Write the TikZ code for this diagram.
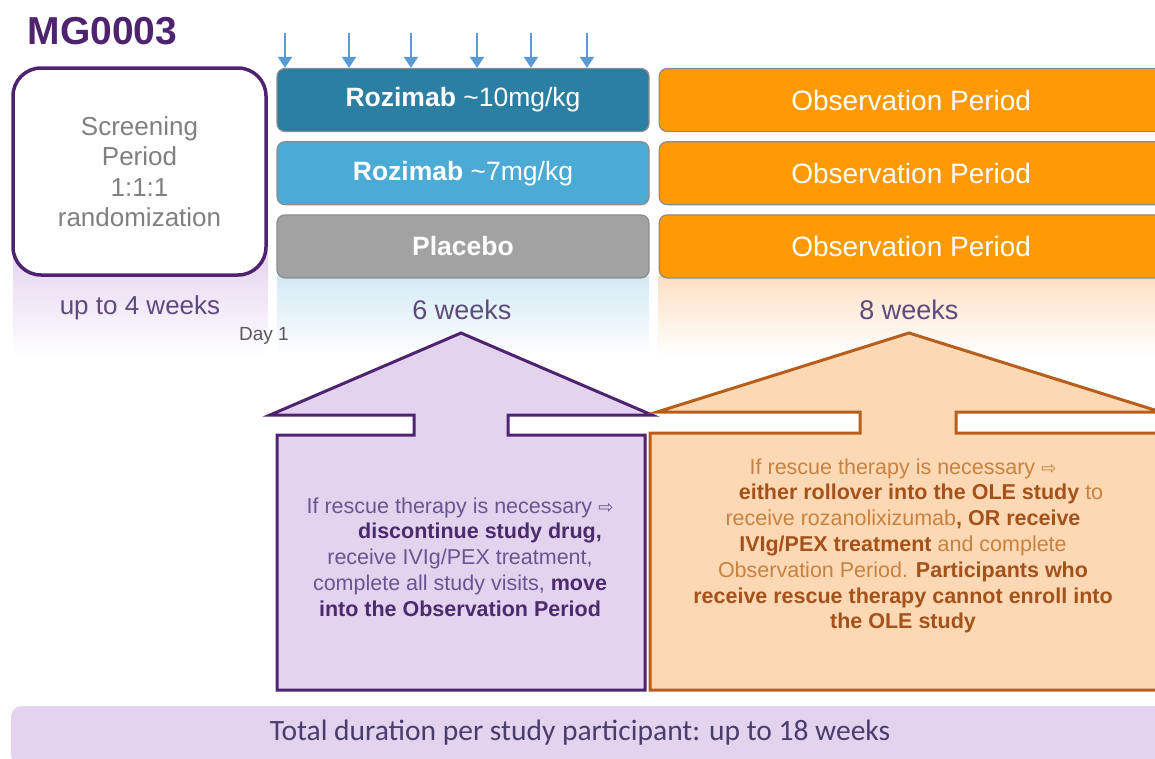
\documentclass[tikz,border=0pt]{standalone}
\usepackage{fontspec}
\setmainfont{Liberation Sans}
\newfontfamily\calibfont{Carlito}
\newfontfamily\arrowfont{DejaVu Sans}
\usepackage{tikz}
\usetikzlibrary{arrows.meta, positioning}
\usepackage{xcolor}

\definecolor{mgpurple}{HTML}{4E2470}
\definecolor{durpurple}{HTML}{5E4A7C}
\definecolor{screengray}{HTML}{808080}
\definecolor{dosecol}{HTML}{5B9BD5}
\definecolor{rozten}{HTML}{2B7FA3}
\definecolor{rozseven}{HTML}{4CABD4}
\definecolor{placebogray}{HTML}{A2A2A2}
\definecolor{obsorange}{HTML}{FF9A05}
\definecolor{prfill}{HTML}{E3D3EF}
\definecolor{prnormal}{HTML}{6A5590}
\definecolor{prbold}{HTML}{4B2A6E}
\definecolor{orfill}{HTML}{FDD8B5}
\definecolor{ordraw}{HTML}{B85E1C}
\definecolor{ornormal}{HTML}{C7823F}
\definecolor{orbold}{HTML}{A5521A}
\definecolor{totalfill}{HTML}{E3D3EF}
\definecolor{totaltext}{HTML}{4A3D6E}

\newcommand{\prb}[1]{\textbf{\color{prbold}#1}}
\newcommand{\orb}[1]{\textbf{\color{orbold}#1}}
\newcommand{\rarr}{{\arrowfont\fontsize{18}{18}\selectfont ⇨}}

\begin{document}
\begin{tikzpicture}[x=1pt, y=-1pt,
    armbar/.style={draw=black!45, line width=1.2pt, rounded corners=8pt, minimum width=372pt, minimum height=63pt, text=white, font=\fontsize{26.5}{30}\selectfont},
    obsbar/.style={armbar, fill=obsorange, minimum width=504pt, font=\fontsize{28}{30}\selectfont},
    dosearrow/.style={-{Triangle[width=14pt,length=11pt]}, dosecol, line width=1.8pt},
    durtext/.style={text=durpurple, font=\fontsize{26}{30}\selectfont},
    rescuetxt/.style={align=center, font=\fontsize{21.5}{25.8}\selectfont},
    bigarrow/.style={line width=3pt, line join=miter}]

    % Page size
    \useasboundingbox (0,0) rectangle (1155,758);
    \clip (0,0) rectangle (1155,758);

    % Study name
    \node[anchor=west, text=mgpurple, font=\bfseries\fontsize{39}{42}\selectfont] (title) at (24,31) {MG0003};

    % Faded bands under the periods
    \shade[top color=prfill, bottom color=white] (13,250) rectangle (268,356);
    \shade[top color=rozseven!25, bottom color=white] (277,276) rectangle (649,356);
    \shade[top color=orfill!80, bottom color=white] (658,276) rectangle (1155,356);

    % Screening box
    \node[draw=mgpurple, line width=3.5pt, rounded corners=28pt, fill=white, minimum width=253pt, minimum height=207pt, align=center, text=screengray, font=\fontsize{26}{30.5}\selectfont] (screen) at (139.5,171.5)
    {Screening\\Period\\1:1:1\\randomization};

    % Treatment arms
    \node[armbar, fill=rozten] (r10) at (463,100) {\textbf{Rozimab} \textasciitilde 10mg/kg};
    \node[armbar, fill=rozseven, below=9pt of r10] (r7) {\textbf{Rozimab} \textasciitilde 7mg/kg};
    \node[armbar, fill=placebogray, below=9pt of r7] (pla) {\textbf{Placebo}};

    % Observation period for each arm
    \node[obsbar, right=9pt of r10] (obs1) {Observation Period};
    \node[obsbar, right=9pt of r7] (obs2) {Observation Period};
    \node[obsbar, right=9pt of pla] (obs3) {Observation Period};

    % Dosing arrows
    \foreach \dx [count=\i] in {285,349,411,477,531,587} {
        \coordinate (dose\i) at (\dx,33);
        \draw[dosearrow] (dose\i) -- (dose\i |- r10.north);
    }

    % Durations
    \node[durtext] (upto) at (140,308) {up to 4 weeks};
    \node[durtext, font=\fontsize{27}{30}\selectfont] (six) at (462,310) {6 weeks};
    \node[durtext, font=\fontsize{27}{30}\selectfont] (eight) at (909,310) {8 weeks};
    \node[text=black!65, font=\fontsize{19}{20}\selectfont] (day) at (264,336) {Day 1};

    % Rescue during treatment
    \draw[bigarrow, draw=mgpurple, fill=prfill] (414,435) -- (414,415) -- (270,415) -- (461,333) -- (652,415) -- (508,415) -- (508,435) -- (645,435) -- (645,690) -- (277,690) -- (277,435) -- cycle;
    \node[rescuetxt, text=prnormal] (prtxt) at (460,557)
    {If rescue therapy is necessary \rarr\\
     \hspace*{40pt}\prb{discontinue study drug,}\\
     receive IVIg/PEX treatment,\\
     complete all study visits, \prb{move}\\
     \prb{into the Observation Period}};

    % Rescue during observation
    \draw[bigarrow, draw=ordraw, fill=orfill] (860,433) -- (860,412) -- (657,412) -- (909,333) -- (1161,412) -- (956,412) -- (956,433) -- (1165,433) -- (1165,690) -- (650,690) -- (650,433) -- cycle;
    \node[rescuetxt, text=ornormal] (ortxt) at (903,546)
    {If rescue therapy is necessary \rarr\\
     \hspace*{36pt}\orb{either rollover into the OLE study} to\\
     receive rozanolixizumab\orb{, OR receive}\\
     \orb{IVIg/PEX treatment} and complete\\
     Observation Period. \orb{Participants who}\\
     \orb{receive rescue therapy cannot enroll into}\\
     \orb{the OLE study}};

    % Total duration
    \node[anchor=north west, fill=totalfill, rounded corners=10pt, minimum width=1165pt, minimum height=60pt] (totalbar) at (11,706) {};
    \node[text=totaltext, font=\calibfont\fontsize{29.5}{32}\selectfont] (total) at (580,733) {Total duration per study participant: up to 18 weeks};
\end{tikzpicture}
\end{document}
